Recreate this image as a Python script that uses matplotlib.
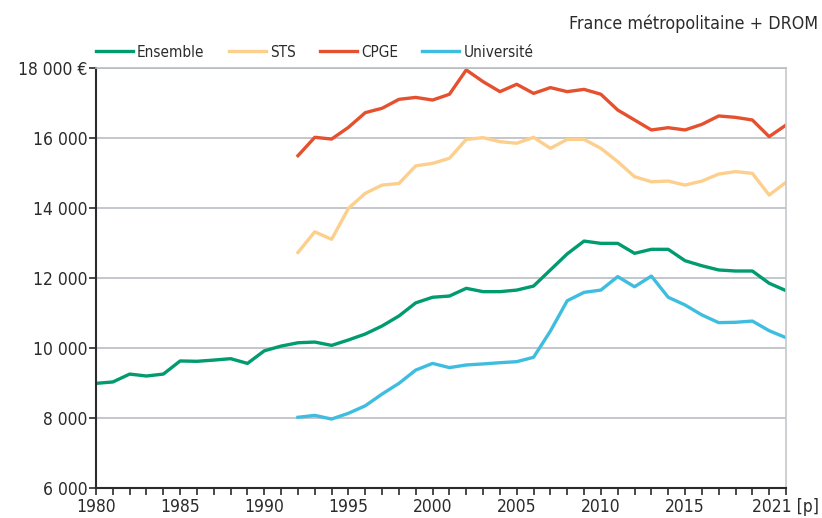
import matplotlib
matplotlib.use('Agg')
import matplotlib.pyplot as plt
import numpy as np

# Data (euros per student)
years = list(range(1980, 2022))
years_sub = list(range(1992, 2022))

ensemble = [8990, 9030, 9255, 9200, 9255, 9630, 9620, 9655, 9695, 9560,
            9920, 10055, 10150, 10170, 10075, 10230, 10400, 10630, 10915, 11290,
            11450, 11485, 11705, 11610, 11610, 11655, 11770, 12230, 12690, 13055,
            12990, 12990, 12705, 12820, 12820, 12495, 12350, 12230, 12200, 12200,
            11850, 11640]
sts = [12730, 13320, 13105, 13990, 14420, 14655, 14700, 15205, 15275, 15420,
       15960, 16010, 15895, 15850, 16020, 15705, 15960, 15960, 15705, 15325,
       14895, 14750, 14770, 14655, 14770, 14970, 15040, 14990, 14370, 14735]
cpge = [15495, 16020, 15970, 16305, 16725, 16850, 17105, 17160, 17085, 17250,
        17945, 17610, 17325, 17535, 17275, 17440, 17325, 17390, 17250, 16800,
        16515, 16230, 16295, 16230, 16390, 16630, 16590, 16515, 16040, 16370]
universite = [8020, 8075, 7970, 8135, 8350, 8685, 8990, 9370, 9560, 9440,
              9515, 9545, 9580, 9610, 9735, 10485, 11350, 11590, 11655, 12040,
              11750, 12055, 11450, 11230, 10945, 10725, 10735, 10770, 10495, 10295]

y_ticks = [6000, 8000, 10000, 12000, 14000, 16000, 18000]
y_labels = ['6 000', '8 000', '10 000', '12 000', '14 000', '16 000', '18 000 €']
x_labels = {1980: '1980', 1985: '1985', 1990: '1990', 1995: '1995', 2000: '2000',
            2005: '2005', 2010: '2010', 2015: '2015', 2021: '2021 [p]'}

plt.rcParams['font.family'] = ['DejaVu Sans']
plt.rcParams['font.stretch'] = 'condensed'

fig = plt.figure(figsize=(8.22, 5.18), dpi=100)
fig.patch.set_facecolor('white')
ax = fig.add_axes([0.1168, 0.0579, 0.8394, 0.8108])

text_col = '#2b2b2b'
ax.plot(years, ensemble, color='#009b6e', lw=2.4, label='Ensemble', solid_joinstyle='round')
ax.plot(years_sub, sts, color='#fdcf8c', lw=2.4, label='STS', solid_joinstyle='round')
ax.plot(years_sub, cpge, color='#e5502e', lw=2.4, label='CPGE', solid_joinstyle='round')
ax.plot(years_sub, universite, color='#3fbde0', lw=2.4, label='Université', solid_joinstyle='round')

ax.set_xlim(1980, 2021)
ax.set_ylim(6000, 18000)

ax.set_yticks(y_ticks)
ax.set_yticklabels(y_labels, fontsize=12.5, color=text_col)
ax.set_xticks(years)
ax.set_xticklabels([x_labels.get(y, '') for y in years], fontsize=12.5, color=text_col)
ax.tick_params(axis='both', direction='out', length=5, width=1.2, color='#2b2b2b', pad=1)
ax.tick_params(axis='x', pad=2.5)

ax.yaxis.grid(True, color='#b9bec3', lw=1.2)
ax.set_axisbelow(True)
for s in ['left', 'bottom']:
    ax.spines[s].set_color('#2b2b2b')
    ax.spines[s].set_linewidth(1.5)
ax.spines['right'].set_color('#c4c8cc')
ax.spines['right'].set_linewidth(1.2)
ax.spines['top'].set_color('#b9bec3')
ax.spines['top'].set_linewidth(1.2)

ax.legend(loc='center left', bbox_to_anchor=(0.0, 1.038), ncol=4, frameon=False,
          fontsize=11, handlelength=2.4, handletextpad=0.28, columnspacing=1.6,
          borderaxespad=0, borderpad=0, labelcolor=text_col)

fig.text(0.995, 0.955, 'France métropolitaine + DROM', ha='right', va='center',
         fontsize=12.8, color=text_col)

fig.savefig('out.png', dpi=100, facecolor='white')
plt.close(fig)
